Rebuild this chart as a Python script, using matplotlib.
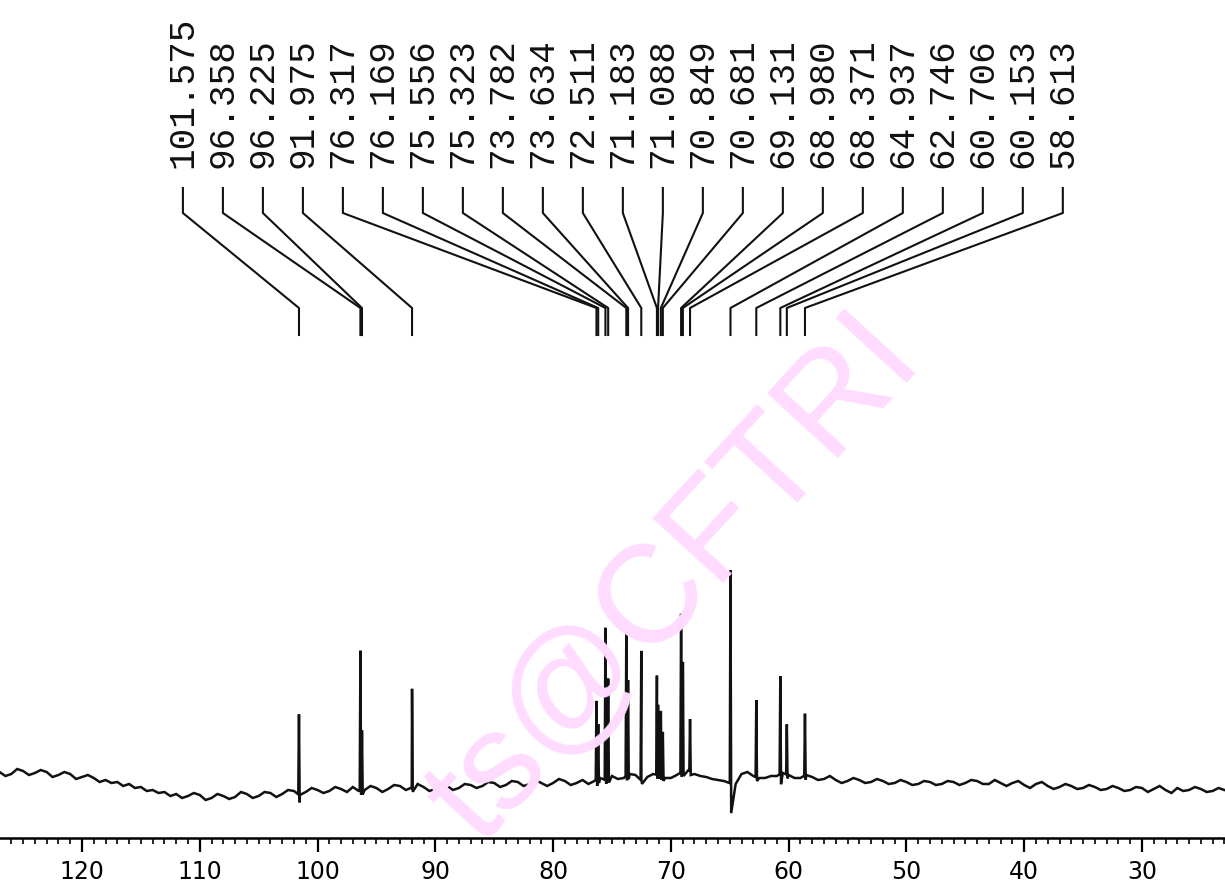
import numpy as np
import matplotlib.pyplot as plt
from matplotlib.ticker import MultipleLocator

# baseline of the trace, one value per 0.5 ppm from 127 down to 23 (arbitrary units)
base_ppm = np.linspace(127, 23, 209)
base_val = [66, 62, 64, 69, 67, 63, 65, 68, 66, 61, 63, 66, 64, 59, 61, 63, 60, 56, 58, 55,
            56, 52, 54, 50, 51, 47, 48, 45, 46, 42, 44, 40, 42, 45, 43, 38, 40, 44, 42, 39,
            41, 46, 44, 40, 42, 46, 45, 41, 44, 48, 47, 43, 46, 50, 48, 45, 47, 51, 49, 46,
            51, 47, 48, 52, 50, 46, 49, 53, 52, 48, 50, 54, 51, 47, 49, 53, 52, 48, 50, 54,
            53, 50, 52, 56, 55, 51, 53, 57, 56, 52, 54, 58, 55, 52, 55, 59, 57, 53, 55, 58,
            54, 57, 60, 58, 62, 59, 60, 64, 63, 58, 61, 64, 63, 60, 60, 63, 66, 68, 64, 62,
            61, 59, 58, 57, 55, 54, 64, 66, 62, 60, 60, 62, 62, 65, 63, 60, 60, 63, 61, 58,
            59, 62, 58, 55, 57, 60, 58, 55, 56, 59, 57, 54, 55, 58, 56, 53, 54, 57, 56, 53,
            54, 57, 56, 53, 55, 58, 57, 54, 54, 58, 55, 52, 55, 57, 53, 50, 54, 56, 52, 49,
            51, 54, 52, 49, 50, 53, 51, 48, 49, 52, 50, 47, 48, 51, 50, 46, 49, 52, 48, 45,
            50, 47, 48, 51, 49, 46, 47, 50, 48]

# picked peaks
peak_ppm = [101.575, 96.358, 96.225, 91.975, 76.317, 76.169, 75.556, 75.323, 73.782, 73.634,
            72.511, 71.183, 71.088, 70.849, 70.681, 69.131, 68.980, 68.371, 64.937, 62.746,
            60.706, 60.153, 58.613]
peak_height = [80, 140, 60, 99, 79, 55, 152, 100, 144, 95,
               129, 99, 70, 65, 45, 159, 110, 52, 213, 77,
               98, 50, 62]
peak_dip = [8, 4, 4, 4, 6, 4, 4, 4, 4, 4,
            4, 4, 4, 4, 4, 4, 4, 4, 30, 4,
            10, 4, 4]
peak_labels = ['%.3f' % p for p in peak_ppm]

# build the trace
xs = list(base_ppm)
ys = list(base_val)
for p, h, d in zip(peak_ppm, peak_height, peak_dip):
    b = np.interp(p, base_ppm[::-1], base_val[::-1])
    xs += [p + 0.06, p, p - 0.06]
    ys += [b, b + h, b - d]
order = np.argsort(xs)[::-1]
xs = np.array(xs)[order]
ys = np.array(ys)[order]

fig = plt.figure(figsize=(12.25, 8.9), dpi=100)
ax = fig.add_axes([0, 52 / 890, 1, 838 / 890])

# watermark
fig.text(0.552, 0.349, 'ts@CFTRI', color='#ffdcff', fontsize=100,
         family='Liberation Sans', rotation=47.5, ha='center', va='center', zorder=0)

ax.plot(xs, ys, color='#111111', lw=1.8, solid_joinstyle='miter')

# peak labels with leader lines
lab_x = np.linspace(111.43, 36.72, len(peak_ppm))
for lx, p, t in zip(lab_x, peak_ppm, peak_labels):
    ax.text(lx, 670, t, rotation=90, ha='center', va='bottom',
            family='Liberation Mono', fontsize=26, color='#111111')
    ax.plot([lx, lx, p, p], [650, 625, 530, 503], color='#111111', lw=1.5)

ax.set_xlim(126.96, 22.95)
ax.set_ylim(0, 838)
for s in ['top', 'left', 'right']:
    ax.spines[s].set_visible(False)
ax.spines['bottom'].set_linewidth(1.8)
ax.set_yticks([])
ax.xaxis.set_major_locator(MultipleLocator(10))
ax.xaxis.set_minor_locator(MultipleLocator(1))
ax.tick_params(axis='x', which='major', direction='out', length=10, width=1.6,
               labelsize=17, pad=6)
ax.tick_params(axis='x', which='minor', direction='out', length=4.5, width=1.2)
ax.patch.set_alpha(0)

fig.savefig('out.png', dpi=100)
